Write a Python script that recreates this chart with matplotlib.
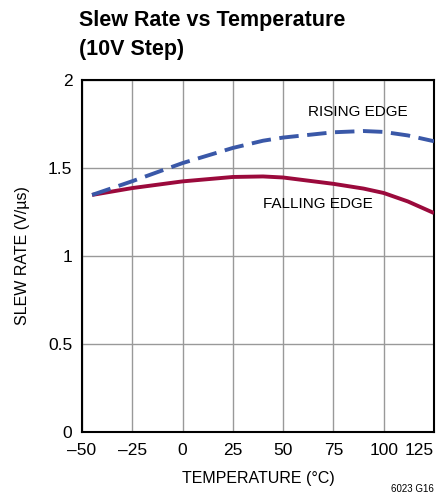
import matplotlib
matplotlib.use("Agg")
import matplotlib.pyplot as plt
import numpy as np
from matplotlib import font_manager

names = {f.name for f in font_manager.fontManager.ttflist}
narrow = 'Liberation Sans Narrow' if 'Liberation Sans Narrow' in names else 'Liberation Sans'
plt.rcParams['font.family'] = [narrow, 'DejaVu Sans']

temp = [-45, -25, 0, 25, 40, 50, 75, 90, 100, 112, 125]
rising = [1.347, 1.425, 1.528, 1.614, 1.655, 1.673, 1.703, 1.710, 1.705, 1.685, 1.652]
falling = [1.347, 1.386, 1.424, 1.449, 1.452, 1.446, 1.410, 1.383, 1.358, 1.310, 1.244]

fig = plt.figure(figsize=(4.47, 4.99), dpi=100)
ax = fig.add_axes([82/447, 1-432/499, 352/447, 352/499])

ax.plot(temp, falling, color='#9b0a3c', lw=2.8, solid_capstyle='butt', zorder=3)
ax.plot(temp, rising, color='#3a58a8', lw=2.8, dashes=(5, 2.2), zorder=3)

ax.set_xlim(-50, 125)
ax.set_ylim(0, 2)
ax.set_xticks(np.arange(-50, 126, 25))
ax.set_xticklabels(['\u201350', '\u201325', '0', '25', '50', '75', '100', '125'])
ax.set_yticks([0, 0.5, 1, 1.5, 2])
ax.set_yticklabels(['0', '0.5', '1', '1.5', '2'])
ax.grid(True, color='#999999', lw=1)
ax.set_axisbelow(True)
ax.tick_params(axis='both', length=0, labelsize=12.5)
ax.tick_params(axis='x', pad=8)
ax.tick_params(axis='y', pad=7)
for s in ax.spines.values():
    s.set_linewidth(1.5)
ax.set_xlabel('TEMPERATURE (°C)', fontsize=11.5, labelpad=9)
ax.set_ylabel('SLEW RATE (V/µs)', fontsize=11.5, labelpad=13)

ax.text(62.4, 1.818, 'RISING EDGE', fontsize=11, ha='left', va='center')
ax.text(40, 1.295, 'FALLING EDGE', fontsize=11, ha='left', va='center')

fig.text(79/447, 1-10/499, 'Slew Rate vs Temperature\n(10V Step)', fontsize=15.5,
         fontweight='bold', ha='left', va='top', linespacing=1.5)
fig.text(434/447, 1-494/499, '6023 G16', fontsize=7, ha='right', va='bottom')

fig.canvas.draw()
ax.get_xticklabels()[-1].set_horizontalalignment('right')

fig.savefig('out.png', dpi=100)
